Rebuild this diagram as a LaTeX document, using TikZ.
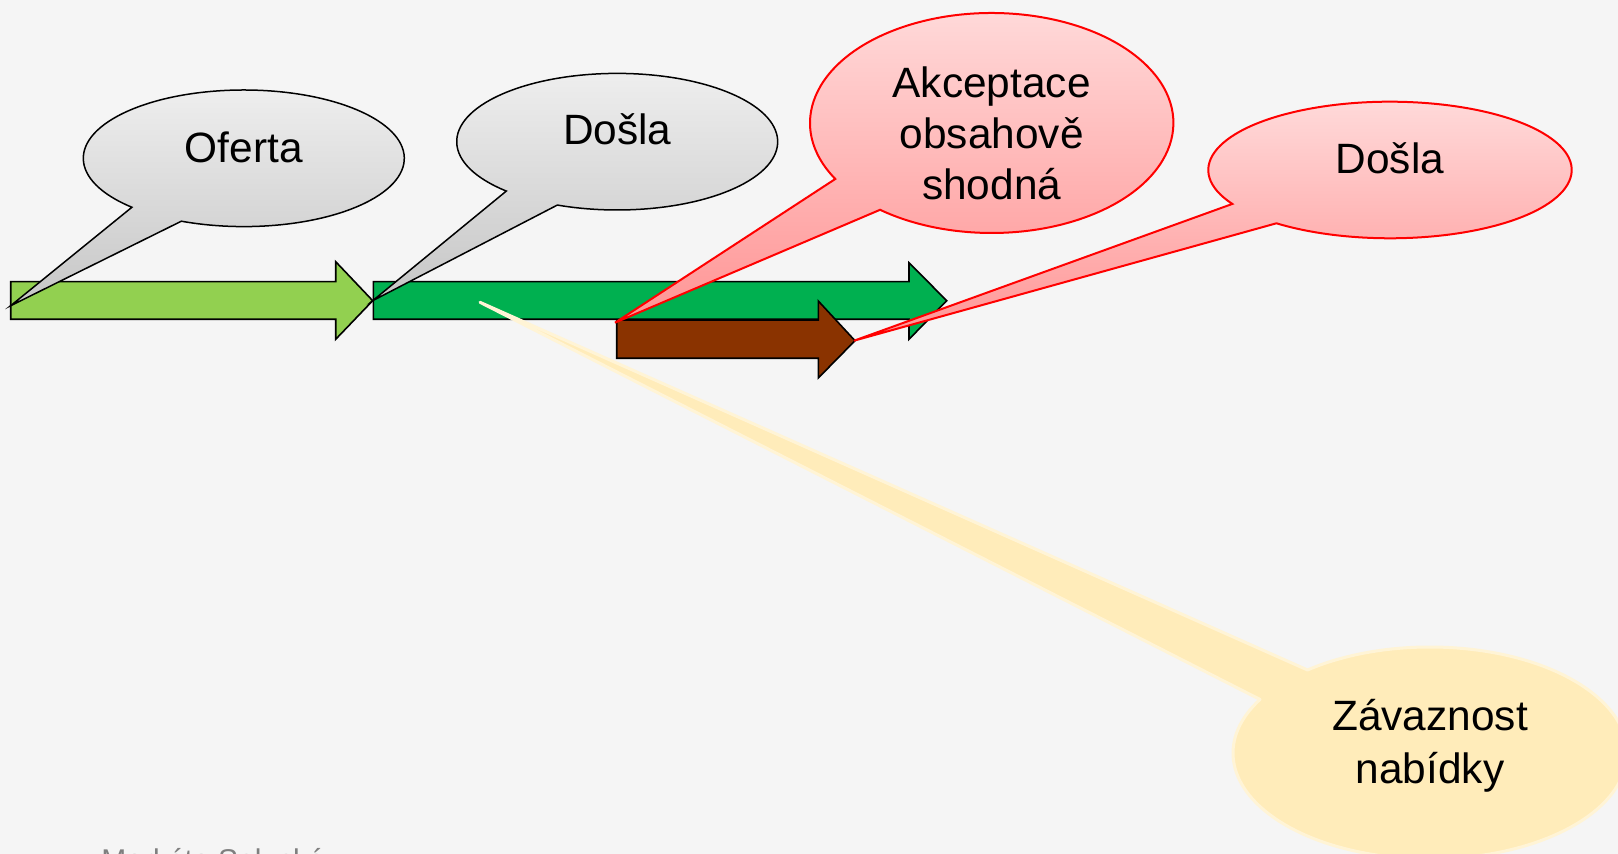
\documentclass[tikz,border=0pt]{standalone}
\usepackage{fontspec}
\setmainfont{Liberation Sans}
\definecolor{bg}{HTML}{F5F5F5}
\definecolor{lgreen}{HTML}{92D050}
\definecolor{dgreen}{HTML}{00B050}
\definecolor{brown}{HTML}{8A3300}
\definecolor{graytop}{HTML}{EFEFEF}
\definecolor{graybot}{HTML}{C6C6C6}
\definecolor{redtop}{HTML}{FFDCDC}
\definecolor{redbot}{HTML}{FF9494}
\definecolor{yfill}{HTML}{FFECBA}
\definecolor{yedge}{HTML}{FFF4D6}
\definecolor{footgray}{HTML}{7F7F7F}
\begin{document}
\begin{tikzpicture}[x=0.5pt,y=-0.5pt,
  arrowbox/.style={draw=black,line width=0.8pt,line join=miter},
  graycall/.style={draw=black,line width=0.75pt,top color=graytop,bottom color=graybot},
  redcall/.style={draw=red,line width=1pt,top color=redtop,bottom color=redbot},
  yellowcall/.style={draw=yedge,line width=1.5pt,fill=yfill,line join=round},
  lbl/.style={inner sep=0pt,text=black,font=\fontsize{21.2pt}{25.4pt}\selectfont}]
\clip (0,0) rectangle (1618,854);
\fill[bg] (0,0) rectangle (1618,854);
% arrows
\draw[arrowbox,fill=lgreen] (10.7,281.7) -- (335.7,281.7) -- (335.7,261.7) -- (372.7,300.7)
  -- (335.7,339.3) -- (335.7,319.3) -- (10.7,319.3) -- cycle;
\draw[arrowbox,fill=dgreen] (373.3,281.7) -- (909,281.7) -- (909,262.7) -- (946.7,300.7)
  -- (909,339.3) -- (909,319.3) -- (373.3,319.3) -- cycle;
\draw[arrowbox,fill=brown] (616.7,320) -- (818.3,320) -- (818.3,301) -- (855,340.7)
  -- (818.3,378) -- (818.3,358.3) -- (616.7,358.3) -- cycle;
% yellow callout
\path[yellowcall] (1430,753) ++(231.55:197 and 106)
  arc[start angle=231.55,end angle=570.35,x radius=197,y radius=106]
  -- (480,302.3) -- cycle;
% gray callouts
\path[graycall] (243.8,158.3) ++(134.2:160.5 and 68.3)
  arc[start angle=134.2,end angle=472.9,x radius=160.5,y radius=68.3]
  -- (10.7,305.7) -- cycle;
\path[graycall] (617.2,141.7) ++(133.7:160.5 and 68.3)
  arc[start angle=133.7,end angle=471.9,x radius=160.5,y radius=68.3]
  -- (372.7,300.7) -- cycle;
% red callouts
\path[redcall] (991.7,123) ++(149.4:181.7 and 110)
  arc[start angle=149.4,end angle=487.9,x radius=181.7,y radius=110]
  -- (615,322.7) -- cycle;
\path[redcall] (1390,170) ++(150.2:181.7 and 68.3)
  arc[start angle=150.2,end angle=488.7,x radius=181.7,y radius=68.3]
  -- (854,340.7) -- cycle;
% texts
\node[lbl,anchor=base] (oferta) at (243.7,162.5) {Oferta};
\node[lbl,anchor=base] (dosla1) at (617.3,145) {Došla};
\node[lbl,align=center] (akcept) at (991.7,133.3) {Akceptace\\obsahově\\shodná};
\node[lbl,anchor=base] (dosla2) at (1390,173.3) {Došla};
\node[lbl,align=center,font=\fontsize{21.2pt}{26.6pt}\selectfont] (zavaz) at (1430,745.5) {Závaznost\\nabídky};
\node[anchor=base west,inner sep=0pt,text=footgray,font=\fontsize{15pt}{18pt}\selectfont] (foot) at (101,871) {Markéta Selucká};
\end{tikzpicture}
\end{document}
